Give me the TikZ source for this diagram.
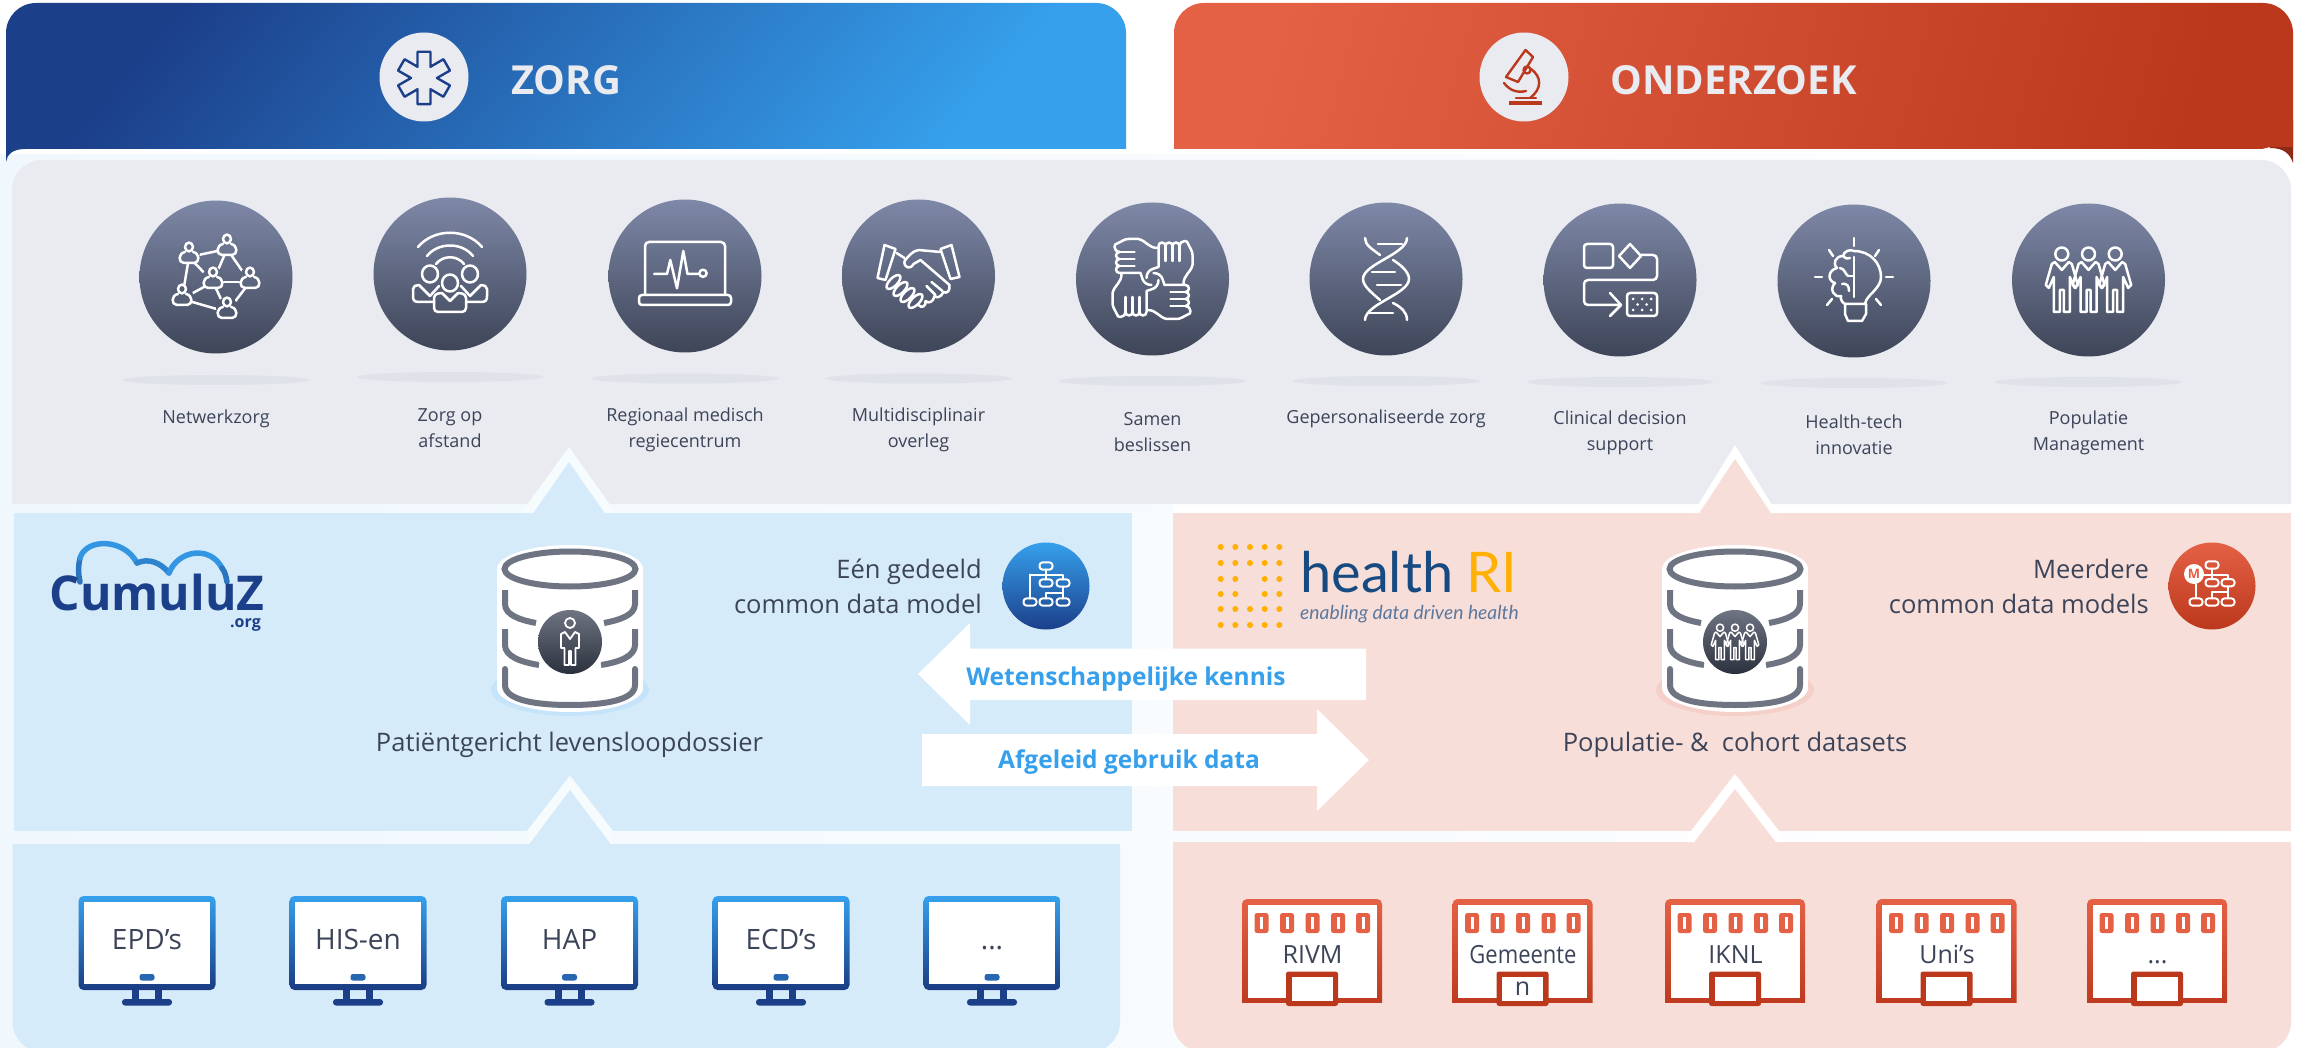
\documentclass[tikz,border=0pt]{standalone}
\usepackage{fontspec}
\setmainfont{Open Sans}
\newfontfamily\latofont{Lato}
\usetikzlibrary{calc,shapes.geometric}
\definecolor{pagemid}{HTML}{E4F2FB}
\definecolor{pageleft}{HTML}{F0F8FE}
\definecolor{greyp}{HTML}{E9EBF0}
\definecolor{shadowc}{HTML}{DFE2E8}
\definecolor{blueP}{HTML}{D6EBFA}
\definecolor{redP}{HTML}{F8DED9}
\definecolor{blueL}{HTML}{36A0EC}
\definecolor{blueD}{HTML}{1C3F8A}
\definecolor{redL}{HTML}{E46145}
\definecolor{redD}{HTML}{BC381C}
\definecolor{redDk}{HTML}{8E2A14}
\definecolor{icT}{HTML}{7E88A7}
\definecolor{icB}{HTML}{3E4558}
\definecolor{txtc}{HTML}{3C4459}
\definecolor{dbl}{HTML}{6F7482}
\definecolor{hrib}{HTML}{174A80}
\definecolor{hriy}{HTML}{FFB000}
\definecolor{hrit}{HTML}{5A789E}
\definecolor{shB}{HTML}{C6E4F9}
\definecolor{shR}{HTML}{F4D0C8}
\tikzset{
  x=1pt,y=-1pt,
  bub/.style={circle,minimum size=153pt,inner sep=0pt,top color=icT,bottom color=icB},
  shad/.style={ellipse,fill=shadowc,minimum width=187pt,minimum height=10pt,inner sep=0pt},
  lbl/.style={font=\fontsize{18}{26}\selectfont,text=txtc,align=center,inner sep=0pt},
  bigl/.style={font=\fontsize{25.5}{35}\selectfont,text=txtc,inner sep=0pt},
  right lbl/.style={font=\fontsize{25.5}{35}\selectfont,text=txtc,align=right,inner sep=0pt,anchor=east},
  arrtxt/.style={font=\fontsize{24.5}{30}\selectfont\bfseries,text=blueL,inner sep=0pt},
  headtxt/.style={font=\fontsize{40}{48}\selectfont\bfseries,text=greyp,inner sep=0pt},
  monl/.style={font=\fontsize{28}{34}\selectfont,text=txtc,inner sep=0pt,anchor=base},
  bldl/.style={font=\fontsize{25}{30}\selectfont,text=txtc,inner sep=0pt,anchor=base},
  ico/.style={draw=white,line width=2.5pt,line cap=round,line join=round},
  thin ico/.style={draw=white,line width=2pt,line cap=round,line join=round},
  dbarc/.style={draw=dbl,line width=6pt,line cap=round},
}
% person outline, origin at figure centre
\newcommand{\personfig}[4]{%
  \begin{scope}[shift={(#1,#2)},scale=#3]
    \draw[#4] (0,-26) circle[radius=6.5];
    \draw[#4] (0,-10) -- (-7,-18) -- (-10,-16) -- (-16,5) -- (-13,8) -- (-8,-3) -- (-8,32) -- (-2,32) -- (-2,10) -- (2,10) -- (2,32) -- (8,32) -- (8,-3) -- (13,8) -- (16,5) -- (10,-16) -- (7,-18) -- cycle;
  \end{scope}}
\newcommand{\netp}[3]{%
  \begin{scope}[shift={(#1,#2)}]
    \fill[icT!#3!icB] (0,-2) circle[radius=11];
    \draw[ico] (0,-8) circle[x radius=4,y radius=4.4];
    \draw[ico] (-4,-3) .. controls (-11,-2) and (-11,8) .. (-5,8) -- (5,8) .. controls (11,8) and (11,-2) .. (4,-3);
  \end{scope}}
\newcommand{\monitor}[3]{%
  \begin{scope}[shift={(#1,0)}]
    \shade[top color=blueL,bottom color=blueD!95!black,rounded corners=5pt] (-68.5,896) rectangle (68.5,990);
    \fill[white] (-63,902) rectangle (63,984);
    \fill[blueD] (-15,990) rectangle (-8,1000);
    \fill[blueD] (8,990) rectangle (15,1000);
    \fill[blueD,rounded corners=3pt] (-25,999) rectangle (25,1005.5);
    \fill[blueD!60!blueL,rounded corners=2.5pt] (-7.5,974) rectangle (7.5,980.5);
  \end{scope}
  \node[monl] (#2) at (#1,949) {#3};}
\newcommand{\building}[4]{%
  \begin{scope}[shift={(#1,0)}]
    \shade[top color=redL,bottom color=redD,rounded corners=5pt] (-70,899) -- (70,899) -- (70,1010) -- (-70,1010) -- cycle;
    \fill[redP] (-71,1003) rectangle (71,1012);
    \fill[white] (-64.5,904.5) rectangle (64.5,997.5);
    \foreach \wx in {-50.5,-25,0.5,26,51}{
      \fill[redL,rounded corners=2.5pt] (\wx-7,913) rectangle (\wx+7,933);
      \fill[white] (\wx-1.5,917) rectangle (\wx+1.5,929);
    }
    \fill[redD,rounded corners=2.5pt] (-26,971.5) rectangle (26,1006);
    \fill[white] (-20.5,977) rectangle (20.5,1000.5);
  \end{scope}
  \node[bldl] (#2) at (#1+0.5,963) {#3};
  \node[bldl] (#2d) at (#1,995) {#4};}
\newcommand{\dbicon}[1]{%
  \begin{scope}[shift={(#1,0)}]
    \fill[white] (0,569) ellipse[x radius=73,y radius=24];
    \fill[white] (-73,569) rectangle (73,688);
    \fill[white] (0,688) ellipse[x radius=73,y radius=24];
    \draw[dbarc] (0,569) ellipse[x radius=65.5,y radius=17.5];
    \draw[dbarc,line cap=butt] (-65,590) -- (-65,604) .. controls (-65,615) and (-50,620) .. (-34,623);
    \draw[dbarc,line cap=butt] (65,590) -- (65,604) .. controls (65,615) and (50,620) .. (34,623);
    \draw[dbarc,line cap=butt] (-65,629) -- (-65,645) .. controls (-65,656) and (-50,662) .. (-31,665);
    \draw[dbarc,line cap=butt] (65,629) -- (65,645) .. controls (65,656) and (50,662) .. (31,665);
    \draw[dbarc] (-65,669) -- (-65,685) .. controls (-65,700) and (-35,705) .. (0,705) .. controls (35,705) and (65,700) .. (65,685) -- (65,669);
    \fill[white] (0,642) circle[radius=37];
    \shade[top color=dbl,bottom color=icB!70!black] (0,642) circle[radius=32];
  \end{scope}}
\newcommand{\cdmicon}[2]{%
  \begin{scope}[shift={(#1,#2)}]
    \draw[thin ico] (0,-16.5) -- (0,-6.5);
    \draw[thin ico] (-16,-11.5) -- (17,-11.5) -- (17,-6.5);
    \draw[thin ico] (-16,-11.5) -- (-16,12.5);
    \draw[thin ico] (0,12.5) -- (0,6.5) -- (17,6.5) -- (17,0.5);
    \draw[thin ico] (17,6.5) -- (17,12.5);
    \foreach \bx/\by in {0/-20,0/-3,17/-3,-16/16,0/16,17/16}{
      \draw[thin ico,rounded corners=3pt] (\bx-6.5,\by-3.6) rectangle (\bx+6.5,\by+3.6);
    }
  \end{scope}}
\begin{document}
\begin{tikzpicture}
\useasboundingbox (0,0) rectangle (2308,1048);
\clip (0,0) rectangle (2308,1048);
\fill[white] (0,0) rectangle (2308,1048);
\shade[left color=pageleft,middle color=pagemid,right color=white] (0,155) rectangle (2308,1048);
\fill[white] (1173,503) rectangle (2308,513);

% headers
\shade[left color=blueD,right color=blueL,shading angle=50] (6,149) -- (6,33) arc[start angle=180,end angle=270,radius=30] -- (1096,3) arc[start angle=270,end angle=360,radius=30] -- (1126,149) -- cycle;
\fill[blueD] (6,120) -- (6,162) .. controls (7,155) and (12,149) .. (25,149) -- (30,120) -- cycle;
\fill[redDk] (2260,120) -- (2270,148) .. controls (2284,148) and (2290,154) .. (2293,163) -- (2293,120) -- cycle;
\shade[left color=redL,right color=redD,shading angle=75] (1174,149) -- (1174,33) arc[start angle=180,end angle=270,radius=30] -- (2263,3) arc[start angle=270,end angle=360,radius=30] -- (2293,147) -- (2270,147) -- (2262,149) -- cycle;
\node[circle,fill=greyp,minimum size=89pt,inner sep=0pt] (zorgc) at (424,77) {};
\node[circle,fill=greyp,minimum size=89pt,inner sep=0pt] (ondc) at (1524,77) {};
\node[headtxt] (zorgt) at (566,80) {ZORG};
\node[headtxt] (ondt) at (1733.5,80) {ONDERZOEK};
% star of life
\draw[blueD,line width=2.4pt,line join=round,shift={(424,78)}] (104:27) -- (76:27) -- (60:13) -- (44:27) -- (16:27) -- (0:13) -- (-16:27) -- (-44:27) -- (-60:13) -- (-76:27) -- (-104:27) -- (-120:13) -- (-136:27) -- (-164:27) -- (180:13) -- (164:27) -- (136:27) -- (120:13) -- cycle;
% microscope
\begin{scope}[shift={(1524,77)},line width=2.4pt,line join=round,line cap=round]
  \draw[redD] (1.5,-27) -- (9,-20) -- (-6,5) -- (-18,0) -- cycle;
  \draw[redD] (3,-7) circle[radius=3.5];
  \draw[redD] (7,-8) .. controls (18,0) and (18,12) .. (6,21);
  \draw[redD] (-20,6) .. controls (-14,14) and (-6,16) .. (2,14);
  \draw[redD] (-8,21) -- (12,21);
  \draw[redD,line width=4pt,line cap=butt] (-15,26) -- (18,26);
\end{scope}

% grey panel
\fill[greyp] (12,504) -- (12,190) arc[start angle=180,end angle=270,radius=30] -- (2261,160) arc[start angle=270,end angle=360,radius=30] -- (2291,504) -- cycle;

% bubbles
\node[shad] (s1) at (216,380) {};
\node[shad] (s2) at (450,377) {};
\node[shad] (s3) at (685,378.5) {};
\node[shad] (s4) at (918.5,378.5) {};
\node[shad] (s5) at (1152.5,381) {};
\node[shad] (s6) at (1386,381) {};
\node[shad] (s7) at (1620,382) {};
\node[shad] (s8) at (1854,383) {};
\node[shad] (s9) at (2088.5,382) {};
\node[bub] (c1) at (216,277) {};
\node[bub] (c2) at (450,274) {};
\node[bub] (c3) at (685,276) {};
\node[bub] (c4) at (918.5,276) {};
\node[bub] (c5) at (1152.5,279) {};
\node[bub] (c6) at (1386,279) {};
\node[bub] (c7) at (1620,280) {};
\node[bub] (c8) at (1854,281) {};
\node[bub] (c9) at (2088.5,280) {};

\node[lbl] (l1) at (216,418.5) {Netwerkzorg};
\node[lbl] (l2) at (450,428) {Zorg op\\afstand};
\node[lbl] (l3) at (685,430) {Regionaal medisch\\regiecentrum};
\node[lbl] (l4) at (918.5,430) {Multidisciplinair\\overleg};
\node[lbl] (l5) at (1152.5,432) {Samen\\beslissen};
\node[lbl] (l6) at (1386,419) {Gepersonaliseerde zorg};
\node[lbl] (l7) at (1620,433) {Clinical decision\\support};
\node[lbl] (l8) at (1854,435) {Health-tech\\innovatie};
\node[lbl] (l9) at (2088.5,433) {Populatie\\Management};

% icon 1 network
\begin{scope}[shift={(216,277)}]
  \draw[ico] (-27,-20) -- (11,-28) -- (34,5) -- (11,35) -- (-34,22) -- (-27,-20) -- (-3,5) -- (11,-28);
  \draw[ico] (-3,5) -- (34,5);
  \draw[ico] (-34,22) -- (-3,5) -- (11,35);
  \netp{-27}{-22}{66}\netp{11}{-30}{71}\netp{-3}{3}{50}\netp{34}{3}{50}\netp{-34}{20}{38}\netp{11}{33}{30}
\end{scope}
% icon 2 remote care
\begin{scope}[shift={(450,274)}]
  \draw[ico] (-32,-27) .. controls (-16,-46) and (16,-46) .. (32,-27);
  \draw[ico] (-23,-18) .. controls (-12,-32) and (12,-32) .. (23,-18);
  \draw[ico] (-14,-10) .. controls (-7,-19) and (7,-19) .. (14,-10);
  \draw[ico] (-20,0) circle[x radius=8,y radius=8.5];
  \draw[ico] (20,0) circle[x radius=8,y radius=8.5];
  \draw[ico] (0,9) circle[x radius=8,y radius=8.5];
  \draw[ico] (-17,28) -- (-31,28) .. controls (-36,28) and (-37,26) .. (-37,22) -- (-37,15) .. controls (-37,12) and (-34,11) .. (-31,11) -- (-20,22) -- (-11,12);
  \draw[ico] (17,28) -- (31,28) .. controls (36,28) and (37,26) .. (37,22) -- (37,15) .. controls (37,12) and (34,11) .. (31,11) -- (20,22) -- (11,12);
  \draw[ico,rounded corners=4pt] (-8,19) -- (-16,20) -- (-16,38) -- (16,38) -- (16,20) -- (8,19);
  \draw[ico] (-8,19) -- (0,27) -- (8,19);
\end{scope}
% icon 3 laptop
\begin{scope}[shift={(685,276)}]
  \draw[ico,rounded corners=4pt] (-40,19) -- (-40,-34) -- (40,-34) -- (40,19);
  \draw[ico,rounded corners=3pt] (-46,19) -- (46,19) -- (46,29) -- (-46,29) -- cycle;
  \draw[ico] (-31,-2) -- (-18,-2) -- (-14.7,-16) -- (-8,12.3) -- (-1.7,-25) -- (2.5,-2) -- (14,-2);
  \draw[ico] (18,-2.7) circle[radius=3.6];
\end{scope}
% icon 4 handshake
\begin{scope}[shift={(918.5,276)}]
  \draw[ico] (-34,-31) -- (-23,-27) -- (-33,4) -- (-41,2) -- cycle;
  \draw[ico] (33,-31) -- (22,-27) -- (32,3) -- (41,1) -- cycle;
  \draw[ico] (-22,-23) -- (-14,-18);
  \draw[ico] (22,-24) -- (0,-26) .. controls (-6,-25) and (-10,-20) .. (-14,-15) .. controls (-15,-8) and (-8,-6) .. (-5,-12) -- (2,-16) -- (31,9) .. controls (32,15) and (28,18) .. (25,16);
  \draw[ico] (25,16) .. controls (22,22) and (18,22) .. (16,20) .. controls (15,26) and (10,28) .. (7,25) .. controls (8,30) and (3,33) .. (0,29);
  \draw[ico] (8,10) -- (17,19);
  \draw[ico] (13,6) -- (24,15);
  \foreach \fx/\fy in {-25/6,-18/13,-11/19,-3/25}{
    \draw[ico,rotate around={45:(\fx,\fy)}] (\fx,\fy) circle[x radius=9,y radius=4];
  }
\end{scope}
% icon 5 four hands
\begin{scope}[shift={(1152.5,279)}]
  \foreach \rr in {0,90,180,270}{
    \begin{scope}[rotate=\rr]
      \draw[ico] (-6,-1) .. controls (-6,-6) and (-3,-9) .. (0,-10) -- (6,-12) -- (6,-33)
        arc[start angle=180,end angle=360,radius=3.5]
        arc[start angle=180,end angle=360,radius=3.5]
        arc[start angle=180,end angle=360,radius=3.5]
        arc[start angle=180,end angle=300,radius=5]
        .. controls (38,-30) and (40,-28) .. (40,-24) -- (40,-14) .. controls (38,-6) and (31,-4) .. (31,5);
      \draw[ico] (13,-33) -- (13,-18);
      \draw[ico] (20,-33) -- (20,-18);
      \draw[ico] (27,-33) -- (27,-18);
    \end{scope}
  }
\end{scope}
% icon 6 dna
\begin{scope}[shift={(1386,279)}]
  \draw[ico] (21,-41) .. controls (21,-25) and (-23,-15) .. (-23,0) .. controls (-23,7) and (-14,14) .. (-6,21);
  \draw[ico] (-21,-41) .. controls (-21,-34) and (-14,-30) .. (-6,-24);
  \draw[ico] (7,-19) .. controls (15,-14) and (23,-7) .. (23,0) .. controls (23,15) and (-21,25) .. (-21,41);
  \draw[ico] (7,24) .. controls (15,28) and (21,33) .. (21,41);
  \draw[ico] (-8,-35) -- (16,-35);
  \draw[ico] (-14,-7) -- (9,-7);
  \draw[ico] (-9,6) -- (15,6);
  \draw[ico] (-18,34) -- (7,34);
\end{scope}
% icon 7 clinical decision
\begin{scope}[shift={(1620,280)}]
  \draw[ico,rounded corners=3pt] (-36,-36) rectangle (-7,-12);
  \draw[ico] (10,-36) -- (21,-24) -- (10,-12) -- (-1,-24) -- cycle;
  \draw[ico,rounded corners=4pt] (21,-25) -- (37,-25) -- (37,0) -- (-36,0) -- (-36,25) -- (1,25);
  \draw[ico] (-10,13) -- (1,25) -- (-10,36);
  \draw[ico,rounded corners=3pt] (7,13) rectangle (37,36);
  \foreach \dx/\dy in {13/19,22/19,31/19,17.5/24.5,26.5/24.5,13/30,22/30,31/30}{
    \fill[white] (\dx,\dy) circle[radius=1.5];
  }
\end{scope}
% icon 8 bulb
\begin{scope}[shift={(1854,281)}]
  \draw[ico] (0,-30) .. controls (16,-30) and (27,-18) .. (27,-4) .. controls (27,8) and (12,14) .. (11,23);
  \draw[ico] (0,-30) .. controls (-4,-32) and (-10,-30) .. (-11,-25) .. controls (-18,-25) and (-22,-18) .. (-17,-13) .. controls (-26,-11) and (-27,0) .. (-19,2) .. controls (-25,8) and (-20,17) .. (-13,15) .. controls (-14,19) and (-11,22) .. (-9,23);
  \draw[ico] (0,-24) -- (0,16);
  \draw[ico] (-11,-25) .. controls (-8,-22) and (-6,-22) .. (-4,-23);
  \draw[ico] (-14,-13) .. controls (-9,-12) and (-9,-7) .. (-6,-5);
  \draw[ico] (-12,3) .. controls (-7,2) and (-5,5) .. (-5,10);
  \draw[ico] (-6,-5) -- (0,-5);
  \draw[ico] (-9,23) -- (12,23) -- (12,33) -- (8,40) -- (-6,40) -- (-9,33) -- cycle;
  \draw[ico] (0,-43) -- (0,-35);
  \draw[ico] (25,-31) -- (21,-25);
  \draw[ico] (-25,-31) -- (-21,-25);
  \draw[ico] (32,-4) -- (39,-4);
  \draw[ico] (-32,-4) -- (-39,-4);
  \draw[ico] (22,18) -- (27,24);
  \draw[ico] (-22,18) -- (-27,24);
\end{scope}
% icon 9 population
\personfig{2061.8}{280}{1}{ico}
\personfig{2115.2}{280}{1}{ico}
\personfig{2088.5}{280}{1}{ico}

% blue middle and bottom
\fill[blueP] (14,513) rectangle (1132,831);
\fill[blueP] (12.5,844) -- (1120,844) -- (1120,1022) arc[start angle=0,end angle=90,radius=30] -- (42.5,1052) arc[start angle=90,end angle=180,radius=30] -- cycle;
\fill[redP] (1173,513) rectangle (2291,831);
\fill[redP] (1173,842) -- (2291,842) -- (2291,1022) arc[start angle=0,end angle=90,radius=30] -- (1203,1052) arc[start angle=90,end angle=180,radius=30] -- cycle;

% chevrons
\fill[pageleft!60!white] (569,447) -- (521,513) -- (616,513) -- cycle;
\fill[blueP] (569,462) -- (533,513.5) -- (605,513.5) -- cycle;
\fill[white] (1735,445) -- (1693,513) -- (1777,513) -- cycle;
\fill[redP] (1735,459) -- (1699,513.5) -- (1771,513.5) -- cycle;
\fill[pageleft!60!white] (570,775.5) -- (527,831) -- (529,844) -- (611,844) -- (613,831) -- cycle;
\fill[blueP] (570,790) -- (529,844.5) -- (611,844.5) -- cycle;
\fill[white] (1735,774) -- (1691,831) -- (1685,842) -- (1785,842) -- (1779,831) -- cycle;
\fill[redP] (1735,789) -- (1694,842.5) -- (1776,842.5) -- cycle;

% cumuluz logo
\draw[blueL!55!blueD,line width=5.5pt,line cap=round] (80,582) .. controls (78,572) and (78,568) .. (80,558);
\draw[blueL!90!blueD,line width=5.5pt,line cap=round] (80,558) .. controls (86,538) and (124,538) .. (137,563);
\draw[blueL!70!blueD,line width=5.5pt,line cap=round] (137,563) .. controls (148,558) and (160,562) .. (169,573);
\draw[blueL!90!blueD,line width=5.5pt,line cap=round] (169,573) .. controls (178,550) and (210,545) .. (222,568);
\draw[blueL!55!blueD,line width=5.5pt,line cap=round] (222,568) .. controls (225,572) and (226,576) .. (227,582);
\node[font=\fontsize{48}{50}\selectfont\bfseries,text=blueD,inner sep=0pt,anchor=base] (cz) at (157,610.5) {CumuluZ};
\node[font=\fontsize{16}{18}\selectfont\bfseries,text=blueD,inner sep=0pt,anchor=base east] (czo) at (261,627) {.org};

% health RI logo
\foreach \hy in {547,563,609,625}{\foreach \hx in {1220.7,1235.3,1250,1264.7,1279.3}{\fill[hriy] (\hx,\hy) circle[radius=3];}}
\foreach \hy in {579,594}{\foreach \hx in {1220.7,1235.3,1264.7,1279.3}{\fill[hriy] (\hx,\hy) circle[radius=3];}}
\node[font=\fontsize{56}{60}\selectfont\latofont,text=hrib,inner sep=0pt,anchor=base west] (hh) at (1300,592) {health};
\node[font=\fontsize{56}{60}\selectfont\latofont,text=hriy,inner sep=0pt,anchor=base east] (hr) at (1517,592) {RI};
\node[font=\fontsize{19.3}{24}\selectfont\latofont\itshape,text=hrit,inner sep=0pt,anchor=base west] (ht) at (1300,619) {enabling data driven health};

% databases
\fill[shB] (570,690) ellipse[x radius=79,y radius=26];
\dbicon{570}
\fill[shR] (1735,690) ellipse[x radius=79,y radius=26];
\dbicon{1735}
\begin{scope}[shift={(570,642)}]
  \draw[thin ico,line width=1.8pt] (0,-19) circle[radius=5];
  \draw[thin ico,line width=1.8pt] (0,-3) -- (-5,-10) -- (-9,-8) -- (-9,6) -- (-5.5,6) -- (-5.5,23) -- (-1,23) -- (-1,9) -- (1,9) -- (1,23) -- (5.5,23) -- (5.5,6) -- (9,6) -- (9,-8) -- (5,-10) -- cycle;
\end{scope}
\personfig{1720}{642}{0.55}{thin ico,line width=1.5pt}
\personfig{1750}{642}{0.55}{thin ico,line width=1.5pt}
\personfig{1735}{642}{0.55}{thin ico,line width=1.5pt}
\node[bigl] (pl) at (569.5,744.5) {Patiëntgericht levensloopdossier};
\node[bigl] (pr) at (1735,744.5) {Populatie- \&\ \ cohort datasets};

% right notes
\node[right lbl] (n1) at (982,586.5) {Eén gedeeld\\common data model};
\node[circle,minimum size=87pt,inner sep=0pt,top color=blueL,bottom color=blueD] (b1) at (1046,586) {};
\cdmicon{1046}{586}
\node[right lbl] (n2) at (2149,586.5) {Meerdere\\common data models};
\node[circle,minimum size=87pt,inner sep=0pt,top color=redL,bottom color=redD] (b2) at (2212,586) {};
\begin{scope}[shift={(2212,586)}]
  \draw[thin ico] (0,-17) -- (0,-7);
  \draw[thin ico] (-18,-11.5) -- (16,-11.5) -- (16,-7);
  \draw[thin ico] (-16,-2) -- (-16,12);
  \draw[thin ico] (0,12) -- (0,6) -- (16,6) -- (16,0.5);
  \draw[thin ico] (16,6) -- (16,12);
  \foreach \bx/\by in {0/-21,0/-3.3,16/-3.3,-16/16,0/16,16/16}{
    \draw[thin ico,rounded corners=3pt] (\bx-6.5,\by-3.6) rectangle (\bx+6.5,\by+3.6);
  }
  \fill[white] (-18,-12) circle[radius=10];
  \node[font=\fontsize{13}{14}\selectfont\bfseries,text=redL,inner sep=0pt] (mm) at (-18,-12) {M};
\end{scope}

% arrows
\fill[white] (1366,648.5) -- (970,648.5) -- (970,623) -- (918,674) -- (970,725) -- (970,700) -- (1366,700) -- cycle;
\fill[white] (922,734) -- (1317,734) -- (1317,709) -- (1369,760) -- (1317,811) -- (1317,786) -- (922,786) -- cycle;
\node[arrtxt] (a1) at (1126,679) {Wetenschappelijke kennis};
\node[arrtxt] (a2) at (1129,762) {Afgeleid gebruik data};

% monitors
\monitor{147}{m1}{EPD’s}
\monitor{358}{m2}{HIS-en}
\monitor{569.5}{m3}{HAP}
\monitor{781}{m4}{ECD’s}
\monitor{992}{m5}{...}
% buildings
\building{1312}{g1}{RIVM}{}
\building{1522.5}{g2}{\scalebox{0.88}[1]{Gemeente}}{n}
\building{1735}{g3}{IKNL}{}
\building{1946.5}{g4}{Uni’s}{}
\building{2157}{g5}{...}{}
\end{tikzpicture}
\end{document}
